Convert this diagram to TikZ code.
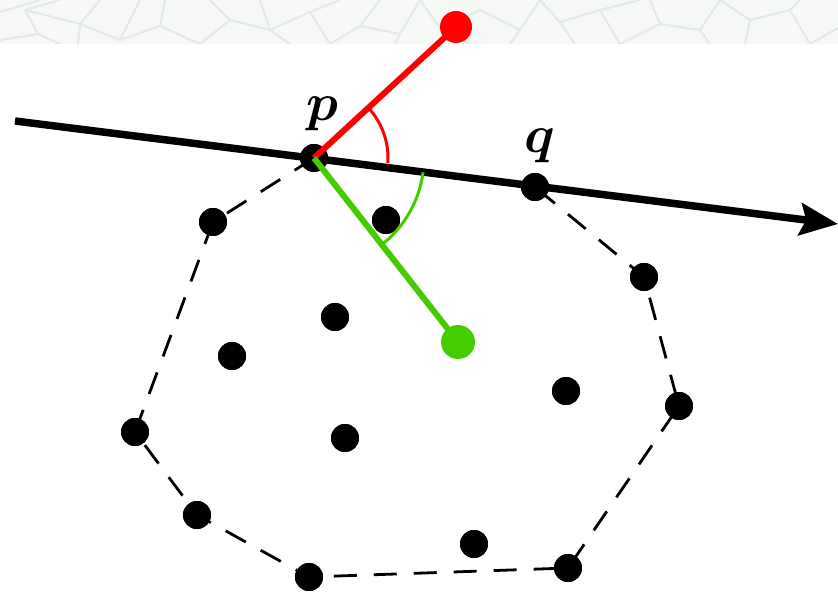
\documentclass[tikz,border=0pt]{standalone}
\usepackage{amsmath}
\usetikzlibrary{arrows.meta}
\definecolor{bandfill}{HTML}{F7F9F7}
\definecolor{bandline}{HTML}{E6EAE6}
\definecolor{redc}{HTML}{FF0000}
\definecolor{greenc}{HTML}{44CC00}
\begin{document}
\begin{tikzpicture}[x=1pt,y=-1pt,
  dot/.style={circle,fill=black,minimum size=28pt,inner sep=0pt},
  hull/.style={line width=2.8pt,dash pattern=on 23pt off 17pt},
  mainline/.style={line width=7.5pt,-{Stealth[length=38pt,width=32pt,inset=6pt]}},
  redline/.style={redc,line width=6pt},
  greenline/.style={greenc,line width=6pt},
  lbl/.style={inner sep=0pt}]
\useasboundingbox (0,0) rectangle (838,593);
% top background band
\fill[bandfill] (0,0) rectangle (838,44);
\begin{scope}
\clip (0,0) rectangle (838,44);
\draw[bandline,line width=2pt]
  (0,12) -- (40,0) (0,40) -- (38,34) -- (60,44)
  (38,34) -- (25,10) -- (60,0) (25,10) -- (80,24) -- (100,0)
  (80,24) -- (78,44) (80,24) -- (120,40) -- (140,0)
  (120,40) -- (160,26) -- (200,44) (160,26) -- (165,0)
  (200,44) -- (230,20) -- (210,0) (230,20) -- (270,30) -- (260,0)
  (270,30) -- (290,44) (270,30) -- (310,12) -- (330,44)
  (310,12) -- (340,0) (330,44) -- (360,26) -- (380,0)
  (360,26) -- (400,34) -- (420,0) (400,34) -- (395,44)
  (420,0) -- (440,28) -- (470,44) (440,28) -- (480,10) -- (520,30) -- (540,0)
  (520,30) -- (510,44) (540,0) -- (560,22) -- (600,10) -- (620,44)
  (560,22) -- (575,44) (600,10) -- (640,0) (620,44) -- (660,24) -- (700,30) -- (720,0)
  (660,24) -- (650,0) (700,30) -- (710,44) (720,0) -- (750,20) -- (790,10) -- (810,44)
  (750,20) -- (745,44) (790,10) -- (800,0) (810,44) -- (838,28);
\end{scope}
% points
\coordinate (start) at (15,121);
\coordinate (tip) at (838,224);
\node[dot] (p) at (314,158) {};
\node[dot] (q) at (535,187) {};
\node[dot] (h1) at (213,222) {};
\node[dot] (h2) at (135,432) {};
\node[dot] (h3) at (197,515) {};
\node[dot] (h4) at (309,577) {};
\node[dot] (h5) at (568,568) {};
\node[dot] (h6) at (679,406) {};
\node[dot] (h7) at (644,277) {};
\node[dot] (i1) at (386,220) {};
\node[dot] (i2) at (335,317) {};
\node[dot] (i3) at (232,356) {};
\node[dot] (i4) at (566,391) {};
\node[dot] (i5) at (345,438) {};
\node[dot] (i6) at (474,544) {};
% hull
\draw[hull] (p.center) -- (h1.center) -- (h2.center) -- (h3.center) -- (h4.center)
  -- (h5.center) -- (h6.center) -- (h7.center) -- (q.center);
% main directed line
\draw[mainline] (start) -- (tip);
% redraw dots over lines
\foreach \n in {p,q,h1,h2,h3,h4,h5,h6,h7,i1,i2,i3,i4,i5,i6}
  \fill (\n) circle (14pt);
% red and green
\node[circle,fill=redc,minimum size=32pt,inner sep=0pt] (r) at (456,27) {};
\node[circle,fill=greenc,minimum size=34pt,inner sep=0pt] (g) at (458,342) {};
\draw[redline] (p.center) -- (r.center);
\draw[greenline] (p.center) -- (g.center);
\draw[redc,line width=3pt] (p.center) ++(4:74) arc[start angle=4,end angle=-42.7,radius=74];
\draw[greenc,line width=3pt] (p.center) ++(52:110) arc[start angle=52,end angle=7.5,radius=110];
% labels
\node[lbl] (lp) at (322,114) {\scalebox{5.3}{$\boldsymbol{p}$}};
\node[lbl] (lq) at (540,146) {\scalebox{5.3}{$\boldsymbol{q}$}};
\end{tikzpicture}
\end{document}
